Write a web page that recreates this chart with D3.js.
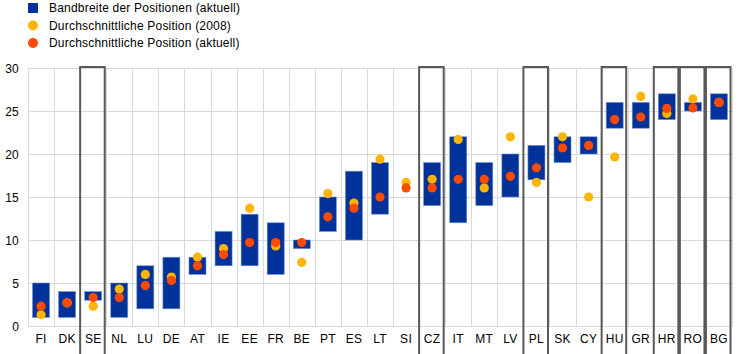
<!DOCTYPE html>
<html><head><meta charset="utf-8">
<script src="https://cdn.jsdelivr.net/npm/d3@7"></script>
<style>body{margin:0;background:#fff}svg{display:block;font-family:"Liberation Sans",Arial,sans-serif}</style>
</head><body><svg id="c" width="744" height="354"></svg>
<script>
const categories = ["FI","DK","SE","NL","LU","DE","AT","IE","EE","FR","BE","PT","ES","LT","SI","CZ","IT","MT","LV","PL","SK","CY","HU","GR","HR","RO","BG"];
const rangeLow  = [1,1,3,1,2,2,6,7,7,6,9,11,10,13,null,14,12,14,15,17,19,20,23,23,24,25,24];
const rangeHigh = [5,4,4,5,7,8,8,11,13,12,10,15,18,19,null,19,22,19,20,21,22,22,26,26,27,26,27];
const avg2008   = [1.3,2.7,2.3,4.3,6.0,5.7,8.0,9.0,13.7,9.3,7.4,15.4,14.3,19.4,16.7,17.05,21.7,16.05,22.0,16.7,22.0,15.0,19.65,26.7,24.7,26.4,26.0];
const avgNow    = [2.3,2.7,3.3,3.3,4.7,5.3,7.0,8.3,9.7,9.7,9.7,12.7,13.7,15.0,16.05,16.05,17.05,17.05,17.4,18.4,20.7,21.0,24.0,24.3,25.3,25.35,26.0];
const highlighted = ["SE","CZ","PL","HU","HR","RO","BG"];
const yTicks = [0,5,10,15,20,25,30];
const legendLabels = ["Bandbreite der Positionen (aktuell)","Durchschnittliche Position (2008)","Durchschnittliche Position (aktuell)"];
const colors = {bar:"#003299", y2008:"#FFB400", now:"#FF4B00"};

(function(){
const svg = d3.select("#c");
const pl = 28, pr = 732, pt = 68, pb = 326;
const x = d3.scaleBand().domain(categories).range([pl, pr]).paddingInner(0).paddingOuter(0);
const y = d3.scaleLinear().domain([0,30]).range([pb, pt]);
const bw = x.bandwidth();
const barW = 17;

// grid
const g = svg.append("g");
g.selectAll("line.h").data(yTicks).join("line")
  .attr("x1", pl).attr("x2", pr).attr("y1", d=>Math.round(y(d))+0.5).attr("y2", d=>Math.round(y(d))+0.5)
  .attr("stroke", "#d9d9d9").attr("stroke-width", 1);
const vlines = categories.map(c=>x(c)).concat([pr]);
g.selectAll("line.v").data(vlines).join("line")
  .attr("x1", d=>Math.round(d)+0.5).attr("x2", d=>Math.round(d)+0.5).attr("y1", pt).attr("y2", pb)
  .attr("stroke", "#d9d9d9").attr("stroke-width", 1);

// y axis labels
const yAxis = d3.axisLeft(y).tickValues(yTicks).tickSize(0).tickPadding(0);
const ya = svg.append("g").attr("transform", `translate(${pl-9},0)`).call(yAxis);
ya.select(".domain").remove();
ya.selectAll("text").attr("font-size", 12).attr("fill", "#000").attr("font-family","Liberation Sans, Arial, sans-serif").attr("dy","0.35em").attr("letter-spacing","0.2px");

// x axis labels
const xAxis = d3.axisBottom(x).tickSize(0).tickPadding(0);
const xa = svg.append("g").attr("transform", `translate(0,${pb+8})`).call(xAxis);
xa.select(".domain").remove();
xa.selectAll("text").attr("font-size", 12).attr("fill", "#000").attr("font-family","Liberation Sans, Arial, sans-serif").attr("dy","0.71em").attr("letter-spacing","0.3px");

// bars
const idx = d3.range(categories.length);
svg.append("g").selectAll("rect").data(idx.filter(i=>rangeLow[i]!=null)).join("rect")
  .attr("x", i=>x(categories[i]) + bw/2 - barW/2)
  .attr("y", i=>y(rangeHigh[i]))
  .attr("width", barW)
  .attr("height", i=>y(rangeLow[i]) - y(rangeHigh[i]))
  .attr("fill", colors.bar).attr("stroke","#6c8fd0").attr("stroke-width",0.6);

// dots
const r = 4.6;
svg.append("g").selectAll("circle").data(idx).join("circle")
  .attr("cx", i=>x(categories[i]) + bw/2).attr("cy", i=>y(avg2008[i])).attr("r", r).attr("fill", colors.y2008);
svg.append("g").selectAll("circle").data(idx).join("circle")
  .attr("cx", i=>x(categories[i]) + bw/2).attr("cy", i=>y(avgNow[i])).attr("r", r).attr("fill", colors.now);

// highlight boxes
svg.append("g").selectAll("rect").data(highlighted).join("rect")
  .attr("x", c=>x(c)).attr("y", pt-1).attr("width", bw-1.5).attr("height", 354-pt+5)
  .attr("fill","none").attr("stroke","#595959").attr("stroke-width",2);

// legend
const lg = svg.append("g");
lg.append("rect").attr("x", 28).attr("y", 3).attr("width", 10).attr("height", 10).attr("fill", colors.bar);
lg.append("circle").attr("cx", 33).attr("cy", 25.5).attr("r", 5).attr("fill", colors.y2008);
lg.append("circle").attr("cx", 33).attr("cy", 43).attr("r", 5).attr("fill", colors.now);
lg.selectAll("text").data(legendLabels).join("text")
  .attr("x", 49).attr("y", (d,i)=>8+i*17.5).attr("dy","0.35em").attr("letter-spacing","0.2px")
  .attr("font-size", 12).attr("fill","#000").text(d=>d);
})();
</script></body></html>
